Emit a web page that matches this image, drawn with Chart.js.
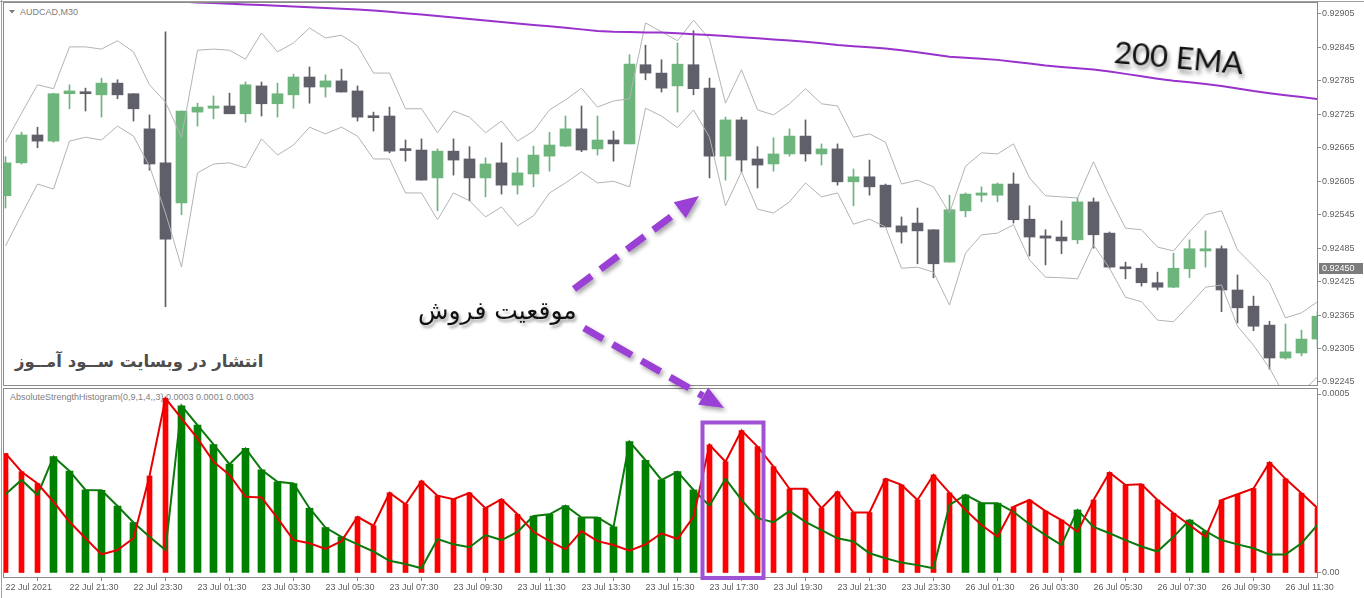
<!DOCTYPE html>
<html>
<head>
<meta charset="utf-8">
<title>AUDCAD,M30</title>
<script src="https://cdn.jsdelivr.net/npm/chart.js@4.4.1/dist/chart.umd.min.js"></script>
<style>
  html, body { margin: 0; padding: 0; background: #fff; }
  #wrap { position: relative; width: 1364px; height: 598px; overflow: hidden; background: #fff; }
  #wrap canvas { position: absolute; left: 0; }
  #priceChart { top: 0; }
  #strengthChart { top: 387px; }
  .note { position: absolute; white-space: nowrap; line-height: 1; }
  #symbol { left: 20px; top: 7px; font: 9px "Liberation Sans", sans-serif; color: #808080; }
  #indName { left: 10px; top: 392px; font: 9px "Liberation Sans", sans-serif; color: #808080; }
  #ema { left: 1116px; top: 32px; font: 31px Lato, sans-serif; color: #111; transform: rotate(5deg); transform-origin: left top; text-shadow: 2px 4px 4px rgba(0,0,0,.45); }
  #sell { left: 418px; top: 296px; direction: rtl; font: 25px "DejaVu Sans", sans-serif; color: #111; text-shadow: 2px 3px 3px rgba(0,0,0,.35); }
  #site { left: 15px; top: 352px; direction: rtl; font: bold 16.5px "DejaVu Sans", sans-serif; color: #4d4d4d; }
  #overlay { position: absolute; left: 0; top: 0; }
</style>
</head>
<body>
<div id="wrap">
  <div class="note" id="indName">AbsoluteStrengthHistogram(0,9,1,4,,3) 0.0003 0.0001 0.0003</div>
  <div class="note" id="symbol">AUDCAD,M30</div>
  <div class="note" id="site">انتشار در وبسایت ســود آمــوز</div>
  <canvas id="priceChart" width="1364" height="387"></canvas>
  <canvas id="strengthChart" width="1364" height="211"></canvas>
  <div class="note" id="ema">200 EMA</div>
  <div class="note" id="sell">موقعیت فروش</div>
  <svg id="overlay" width="1364" height="598">
    <defs>
      <filter id="shadow" x="-20%" y="-20%" width="140%" height="140%">
        <feDropShadow dx="2" dy="3" stdDeviation="2" flood-color="#000" flood-opacity="0.35"/>
      </filter>
    </defs>
    <line x1="0" y1="1.5" x2="1364" y2="1.5" stroke="#a0a0a0"/>
    <line x1="1.5" y1="0" x2="1.5" y2="598" stroke="#a0a0a0"/>
    <polygon points="9,10 15,10 12,13.5" fill="#7a7a7a"/>
    <g filter="url(#shadow)">
      <line x1="574" y1="289" x2="680" y2="210" stroke="#9b3fd4" stroke-width="7" stroke-dasharray="22 11"/>
      <polygon points="699,196 685.7,218.3 673.7,202.3" fill="#9b3fd4"/>
      <line x1="584" y1="328" x2="703" y2="396" stroke="#9b3fd4" stroke-width="7" stroke-dasharray="22 11"/>
      <polygon points="724,408 698.2,404.8 708.2,387.4" fill="#9b3fd4"/>
    </g>
    <rect x="702.5" y="422.5" width="61" height="155.5" fill="none" stroke="#a052d6" stroke-width="4"/>
  </svg>
</div>
<script>
// AUDCAD M30, 22 Jul 19:30 -> 26 Jul 12:30 (83 bars)
const open = [0.92579,0.92638,0.92688,0.92677,0.92762,0.92765,0.92760,0.92781,0.92762,0.92699,
  0.92638,0.92566,0.92729,0.92736,0.92740,0.92726,0.92776,0.92744,0.92760,0.92792,
  0.92774,0.92785,0.92767,0.92720,0.92722,0.92661,0.92661,0.92611,0.92659,0.92645,
  0.92611,0.92638,0.92598,0.92618,0.92650,0.92668,0.92699,0.92663,0.92679,0.92672,
  0.92814,0.92799,0.92776,0.92814,0.92772,0.92650,0.92715,0.92645,0.92636,0.92654,
  0.92686,0.92654,0.92663,0.92604,0.92613,0.92598,0.92525,0.92530,0.92518,0.92460,
  0.92552,0.92580,0.92580,0.92600,0.92537,0.92507,0.92505,0.92500,0.92568,0.92512,
  0.92451,0.92449,0.92423,0.92415,0.92448,0.92480,0.92484,0.92410,0.92381,0.92347,
  0.92288,0.92297,0.92322];
const high = [0.92649,0.92693,0.92702,0.92763,0.92778,0.92772,0.92790,0.92787,0.92762,0.92724,
  0.92873,0.92731,0.92745,0.92758,0.92763,0.92783,0.92783,0.92781,0.92797,0.92810,
  0.92796,0.92806,0.92776,0.92729,0.92738,0.92679,0.92681,0.92663,0.92681,0.92667,
  0.92647,0.92674,0.92647,0.92668,0.92693,0.92722,0.92740,0.92722,0.92695,0.92832,
  0.92849,0.92823,0.92853,0.92875,0.92790,0.92720,0.92720,0.92667,0.92683,0.92699,
  0.92715,0.92672,0.92672,0.92627,0.92643,0.92600,0.92541,0.92557,0.92518,0.92580,
  0.92584,0.92595,0.92602,0.92620,0.92561,0.92518,0.92534,0.92575,0.92575,0.92514,
  0.92460,0.92457,0.92442,0.92476,0.92500,0.92516,0.92489,0.92437,0.92399,0.92354,
  0.92349,0.92338,0.92371];
const low = [0.92557,0.92636,0.92665,0.92675,0.92735,0.92731,0.92720,0.92753,0.92713,0.92625,
  0.92380,0.92545,0.92704,0.92717,0.92726,0.92711,0.92722,0.92720,0.92736,0.92745,
  0.92756,0.92765,0.92713,0.92695,0.92656,0.92641,0.92607,0.92552,0.92616,0.92570,
  0.92577,0.92582,0.92582,0.92595,0.92623,0.92667,0.92658,0.92652,0.92641,0.92672,
  0.92787,0.92765,0.92729,0.92760,0.92611,0.92607,0.92622,0.92593,0.92623,0.92650,
  0.92641,0.92634,0.92598,0.92561,0.92580,0.92523,0.92494,0.92457,0.92432,0.92460,
  0.92541,0.92568,0.92568,0.92530,0.92471,0.92455,0.92475,0.92493,0.92485,0.92449,
  0.92430,0.92417,0.92410,0.92414,0.92432,0.92451,0.92371,0.92351,0.92337,0.92268,
  0.92286,0.92292,0.92306];
const close = [0.92638,0.92688,0.92677,0.92762,0.92767,0.92762,0.92781,0.92760,0.92735,0.92636,
  0.92501,0.92731,0.92738,0.92740,0.92726,0.92778,0.92744,0.92762,0.92792,0.92774,
  0.92785,0.92765,0.92720,0.92719,0.92659,0.92660,0.92607,0.92659,0.92643,0.92611,
  0.92636,0.92598,0.92620,0.92652,0.92670,0.92699,0.92661,0.92679,0.92672,0.92815,
  0.92799,0.92772,0.92815,0.92771,0.92650,0.92715,0.92643,0.92634,0.92654,0.92686,
  0.92654,0.92663,0.92604,0.92613,0.92595,0.92523,0.92514,0.92516,0.92457,0.92554,
  0.92582,0.92584,0.92600,0.92536,0.92505,0.92503,0.92498,0.92568,0.92509,0.92451,
  0.92448,0.92423,0.92415,0.92449,0.92484,0.92484,0.92410,0.92378,0.92345,0.92288,
  0.92299,0.92322,0.92363];
const bandUpper = [0.92675,0.92727,0.92778,0.92771,0.92846,0.92846,0.92842,0.92857,0.92837,0.92778,
  0.92747,0.92684,0.92840,0.92842,0.92840,0.92824,0.92871,0.92837,0.92853,0.92880,
  0.92862,0.92867,0.92848,0.92799,0.92799,0.92735,0.92735,0.92692,0.92731,0.92720,
  0.92692,0.92713,0.92677,0.92695,0.92733,0.92751,0.92772,0.92738,0.92749,0.92753,
  0.92889,0.92873,0.92857,0.92894,0.92860,0.92745,0.92805,0.92733,0.92724,0.92744,
  0.92771,0.92744,0.92740,0.92684,0.92690,0.92675,0.92600,0.92607,0.92595,0.92548,
  0.92632,0.92656,0.92654,0.92672,0.92611,0.92579,0.92577,0.92575,0.92640,0.92577,
  0.92521,0.92518,0.92487,0.92480,0.92514,0.92545,0.92552,0.92482,0.92453,0.92423,
  0.92360,0.92369,0.92389];
const bandLower = [0.92489,0.92545,0.92600,0.92591,0.92677,0.92684,0.92679,0.92704,0.92686,0.92632,
  0.92548,0.92451,0.92620,0.92636,0.92638,0.92629,0.92681,0.92652,0.92670,0.92702,
  0.92690,0.92702,0.92686,0.92645,0.92645,0.92584,0.92584,0.92536,0.92584,0.92570,
  0.92541,0.92559,0.92525,0.92543,0.92584,0.92602,0.92622,0.92602,0.92605,0.92595,
  0.92736,0.92722,0.92701,0.92733,0.92684,0.92561,0.92622,0.92555,0.92548,0.92568,
  0.92602,0.92577,0.92584,0.92528,0.92537,0.92523,0.92449,0.92451,0.92442,0.92383,
  0.92476,0.92509,0.92512,0.92527,0.92464,0.92433,0.92432,0.92430,0.92491,0.92449,
  0.92397,0.92389,0.92356,0.92353,0.92383,0.92415,0.92419,0.92345,0.92311,0.92270,
  0.92218,0.92227,0.92254];
const ema200 = [0.929409,0.929394,0.929382,0.929369,0.929357,0.929344,0.929333,0.929321,0.929308,0.929296,
  0.929283,0.929271,0.929258,0.929247,0.929235,0.929222,0.929210,0.929197,0.929186,0.929172,
  0.929158,0.929143,0.929129,0.929113,0.929089,0.929064,0.929039,0.929014,0.928985,0.928958,
  0.928933,0.928906,0.928881,0.928854,0.928828,0.928801,0.928774,0.928747,0.928731,0.928725,
  0.928720,0.928716,0.928704,0.928688,0.928673,0.928654,0.928634,0.928614,0.928594,0.928575,
  0.928550,0.928523,0.928494,0.928472,0.928453,0.928431,0.928401,0.928363,0.928324,0.928284,
  0.928264,0.928246,0.928227,0.928194,0.928160,0.928126,0.928099,0.928078,0.928055,0.928019,
  0.927976,0.927933,0.927890,0.927852,0.927825,0.927795,0.927759,0.927714,0.927667,0.927628,
  0.927594,0.927560,0.927525];
const currentPrice = 0.92450;
const priceTicks = [0.92245,0.92305,0.92365,0.92425,0.92485,0.92545,0.92605,0.92665,0.92725,0.92785,0.92845,0.92905];

// Absolute strength histogram
const bearLine = [0.000334,0.000283,0.000250,0.000199,0.000143,0.000097,0.000052,0.000064,0.000097,0.000271,
  0.000488,0.000432,0.000376,0.000311,0.000274,0.000213,0.000211,0.000153,0.000092,0.000083,
  0.000067,0.000089,0.000157,0.000132,0.000224,0.000192,0.000257,0.000216,0.000206,0.000224,
  0.000181,0.000206,0.000164,0.000115,0.000089,0.000066,0.000117,0.000089,0.000078,0.000062,
  0.000080,0.000111,0.000095,0.000157,0.000358,0.000311,0.000398,0.000353,0.000297,0.000235,
  0.000235,0.000181,0.000227,0.000169,0.000169,0.000263,0.000246,0.000204,0.000274,0.000224,
  0.000176,0.000134,0.000101,0.000185,0.000204,0.000173,0.000148,0.000115,0.000204,0.000281,
  0.000246,0.000248,0.000204,0.000167,0.000134,0.000101,0.000204,0.000220,0.000236,0.000309,
  0.000263,0.000223,0.000181];
const bullLine = [0.000220,0.000260,0.000218,0.000325,0.000285,0.000232,0.000231,0.000187,0.000141,0.000101,
  0.000064,0.000467,0.000413,0.000359,0.000304,0.000348,0.000288,0.000255,0.000250,0.000181,
  0.000127,0.000101,0.000080,0.000060,0.000034,0.000025,0.000013,0.000095,0.000080,0.000072,
  0.000106,0.000092,0.000115,0.000159,0.000164,0.000188,0.000155,0.000155,0.000129,0.000367,
  0.000315,0.000260,0.000283,0.000232,0.000188,0.000263,0.000204,0.000153,0.000142,0.000173,
  0.000143,0.000120,0.000097,0.000088,0.000055,0.000041,0.000029,0.000022,0.000013,0.000190,
  0.000218,0.000195,0.000195,0.000171,0.000136,0.000106,0.000078,0.000176,0.000129,0.000111,
  0.000092,0.000074,0.000060,0.000101,0.000148,0.000117,0.000092,0.000080,0.000069,0.000052,
  0.000052,0.000083,0.000134];
const histogram = [0.000334,0.000283,0.000250,0.000325,0.000285,0.000232,0.000231,0.000187,0.000141,0.000271,
  0.000488,0.000467,0.000413,0.000359,0.000304,0.000348,0.000288,0.000255,0.000250,0.000181,
  0.000127,0.000101,0.000157,0.000132,0.000224,0.000192,0.000257,0.000216,0.000206,0.000224,
  0.000181,0.000206,0.000164,0.000159,0.000164,0.000188,0.000155,0.000155,0.000129,0.000367,
  0.000315,0.000260,0.000283,0.000232,0.000358,0.000311,0.000398,0.000353,0.000297,0.000235,
  0.000235,0.000181,0.000227,0.000169,0.000169,0.000263,0.000246,0.000204,0.000274,0.000224,
  0.000218,0.000195,0.000195,0.000185,0.000204,0.000173,0.000148,0.000176,0.000204,0.000281,
  0.000246,0.000248,0.000204,0.000167,0.000148,0.000117,0.000204,0.000220,0.000236,0.000309,
  0.000263,0.000223,0.000181];

const timeTickBars = [0,4,8,12,16,20,24,28,32,36,40,44,48,52,56,60,64,68,72,76,80];
const timeLabels = ['22 Jul 2021','22 Jul 21:30','22 Jul 23:30','23 Jul 01:30','23 Jul 03:30','23 Jul 05:30',
  '23 Jul 07:30','23 Jul 09:30','23 Jul 11:30','23 Jul 13:30','23 Jul 15:30','23 Jul 17:30','23 Jul 19:30',
  '23 Jul 21:30','23 Jul 23:30','26 Jul 01:30','26 Jul 03:30','26 Jul 05:30','26 Jul 07:30','26 Jul 09:30',
  '26 Jul 11:30'];

const UP = '#6db47d', DOWN = '#5e5f69';
const BEAR = '#ff0000', BULL = '#008000';
const AXIS = '#8a8a8a', TEXT = '#5f5f5f';
const FONT = { family: '"Liberation Sans", Arial, sans-serif', size: 9 };
const X_MIN = -0.09375, X_MAX = 81.96875;

const candleColors = open.map((o, i) => close[i] >= o ? UP : DOWN);
const pts = arr => arr.map((v, i) => ({ x: i, y: v }));

const frame = {
  id: 'frame',
  beforeDatasetsDraw(chart) {
    const { ctx, chartArea: a } = chart;
    ctx.save();
    ctx.strokeStyle = AXIS;
    ctx.lineWidth = 1;
    ctx.strokeRect(a.left - 0.5, a.top - 0.5, a.right - a.left + 1, a.bottom - a.top + 1);
    ctx.restore();
  }
};

const priceTag = {
  id: 'priceTag',
  afterDraw(chart) {
    const { ctx, chartArea: a } = chart;
    const y = Math.round(chart.scales.y.getPixelForValue(currentPrice));
    ctx.save();
    ctx.fillStyle = '#7c7c7c';
    ctx.fillRect(a.right + 2, y - 5, 44, 11);
    ctx.fillStyle = '#fff';
    ctx.font = '9px "Liberation Sans", Arial, sans-serif';
    ctx.textBaseline = 'middle';
    ctx.fillText(currentPrice.toFixed(5), a.right + 5, y + 0.5);
    ctx.restore();
  }
};

new Chart(document.getElementById('priceChart'), {
  type: 'bar',
  data: {
    datasets: [
      { type: 'line', label: 'EMA 200', data: pts(ema200), borderColor: '#9932cc', borderWidth: 2,
        pointRadius: 0, tension: 0, order: 0 },
      { type: 'line', label: 'Upper', data: pts(bandUpper), borderColor: '#b3b3b3', borderWidth: 1,
        pointRadius: 0, tension: 0, order: 1 },
      { type: 'line', label: 'Lower', data: pts(bandLower), borderColor: '#b3b3b3', borderWidth: 1,
        pointRadius: 0, tension: 0, order: 1 },
      { label: 'Body', data: open.map((o, i) => ({ x: i, y: [o, close[i]] })), backgroundColor: candleColors,
        barThickness: 11, minBarLength: 2, grouped: false, clip: 0, order: 2 },
      { label: 'Wick', data: low.map((l, i) => ({ x: i, y: [l, high[i]] })), backgroundColor: candleColors,
        barThickness: 1, grouped: false, clip: 0, order: 3 }
    ]
  },
  options: {
    responsive: false,
    animation: false,
    devicePixelRatio: 1,
    layout: { padding: { left: 4, top: 3, right: 0, bottom: 2 } },
    plugins: { legend: { display: false }, tooltip: { enabled: false } },
    scales: {
      x: { type: 'linear', min: X_MIN, max: X_MAX, offset: false, display: false },
      y: {
        position: 'right', min: 0.922396, max: 0.929247, bounds: 'data', beginAtZero: false,
        afterBuildTicks: s => { s.ticks = priceTicks.map(v => ({ value: v })); },
        afterFit: s => { s.width = 47; s.paddingTop = 0; s.paddingBottom = 0; },
        ticks: { callback: v => v.toFixed(5), font: FONT, color: TEXT, padding: 1 },
        grid: { drawOnChartArea: false, tickLength: 4, color: AXIS },
        border: { color: AXIS }
      }
    }
  },
  plugins: [frame, priceTag]
});

const bearDominant = histogram.map((_, i) => bearLine[i] > bullLine[i]);

new Chart(document.getElementById('strengthChart'), {
  type: 'bar',
  data: {
    datasets: [
      { type: 'line', label: 'Bears', data: pts(bearLine), borderColor: '#e80000', borderWidth: 2,
        pointRadius: 0, tension: 0, order: 0 },
      { type: 'line', label: 'Bulls', data: pts(bullLine), borderColor: '#0b7a0b', borderWidth: 2,
        pointRadius: 0, tension: 0, order: 1 },
      { label: 'Bear bars', data: histogram.map((v, i) => ({ x: i, y: bearDominant[i] ? v : null })),
        backgroundColor: BEAR, barThickness: 5, grouped: false, clip: 0, order: 2 },
      { label: 'Bull bars', data: histogram.map((v, i) => ({ x: i, y: bearDominant[i] ? null : v })),
        backgroundColor: BULL, barThickness: 7, grouped: false, clip: 0, order: 2 }
    ]
  },
  options: {
    responsive: false,
    animation: false,
    devicePixelRatio: 1,
    layout: { padding: { left: 4, top: 2, right: 0, bottom: 0 } },
    plugins: { legend: { display: false }, tooltip: { enabled: false } },
    scales: {
      x: {
        type: 'linear', min: X_MIN, max: X_MAX, offset: false, bounds: 'data',
        afterBuildTicks: s => { s.ticks = timeTickBars.map(v => ({ value: v })); },
        afterFit: s => { s.height = 21; s.paddingLeft = 0; s.paddingRight = 0; },
        ticks: { callback: (v, i) => timeLabels[i], autoSkip: false, maxRotation: 0, align: 'start',
                 font: FONT, color: TEXT, padding: 1 },
        grid: { drawOnChartArea: false, tickLength: 4, color: AXIS },
        border: { color: AXIS }
      },
      y: {
        position: 'right', min: -0.0000112, max: 0.000514, bounds: 'data', beginAtZero: false,
        afterBuildTicks: s => { s.ticks = [{ value: 0 }, { value: 0.0005 }]; },
        afterFit: s => { s.width = 47; s.paddingTop = 0; s.paddingBottom = 0; },
        ticks: { callback: v => (v === 0 ? '0.00' : '0.0005'), font: FONT, color: TEXT, padding: 1 },
        grid: { drawOnChartArea: false, tickLength: 4, color: AXIS },
        border: { color: AXIS }
      }
    }
  },
  plugins: [frame]
});
</script>
</body>
</html>
